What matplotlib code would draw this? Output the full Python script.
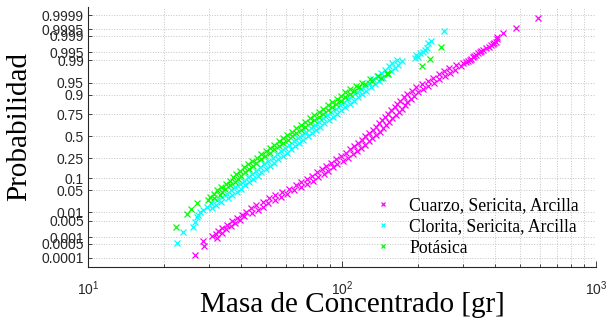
import numpy as np
import matplotlib
matplotlib.use("Agg")
import matplotlib.pyplot as plt
from matplotlib.ticker import FixedLocator, NullLocator, LogLocator, LogFormatterSciNotation, NullFormatter
from statistics import NormalDist

# ---- plotting probabilities shared by the dense part of every sample ----
prob_grid = [0.00097, 0.00114, 0.00135, 0.00159, 0.00187, 0.00219, 0.00256, 0.00298,
             0.00347, 0.00402, 0.00466, 0.00539, 0.00621, 0.00714, 0.00820, 0.00939,
             0.01072, 0.01222, 0.01390, 0.01578, 0.01786, 0.02018, 0.02275, 0.02559,
             0.02872, 0.03216, 0.03593, 0.04006, 0.04457, 0.04947, 0.05480, 0.06057,
             0.06681, 0.07353, 0.08076, 0.08851, 0.09680, 0.10565, 0.11507, 0.12507,
             0.13567, 0.14686, 0.15866, 0.17106, 0.18406, 0.19766, 0.21186, 0.22663,
             0.24196, 0.25785, 0.27425, 0.29116, 0.30854, 0.32636, 0.34458, 0.36317,
             0.38209, 0.40129, 0.42074, 0.44038, 0.46017, 0.48006, 0.5,
             0.51994, 0.53983, 0.55962, 0.57926, 0.59871, 0.61791, 0.63683, 0.65542,
             0.67364, 0.69146, 0.70884, 0.72575, 0.74215, 0.75804, 0.77337, 0.78814,
             0.80234, 0.81594, 0.82894, 0.84134, 0.85314, 0.86433, 0.87493, 0.88493,
             0.89435, 0.90320, 0.91149, 0.91924, 0.92647, 0.93319, 0.93943, 0.94520,
             0.95053, 0.95543, 0.95994, 0.96407, 0.96784, 0.97128, 0.97441, 0.97725,
             0.97982, 0.98214, 0.98422, 0.98610, 0.98778, 0.98928, 0.99061]

# ---- Cuarzo, Sericita, Arcilla: concentrate mass [gr] ----
cuarzo_start = 0
cuarzo_body = [32.3, 30.8, 32.0, 33.6, 32.6, 34.9, 33.8, 36.5, 35.4, 37.8, 36.9, 39.6,
               38.7, 41.3, 40.5,
               44.4, 42.0, 46.5, 43.9, 48.7, 46.0, 51.3, 48.7, 54.3, 51.6, 57.5, 54.7,
               61.0, 58.1, 64.9, 61.7, 69.0, 65.7, 73.0, 69.2, 77.0, 72.9, 80.7, 76.2,
               84.6, 79.9, 88.3, 83.2, 91.9, 86.6, 96.0, 90.6, 100.5, 94.9, 105.2, 99.4,
               110.1, 104.1, 114.7, 107.7, 118.7, 111.5, 122.9, 115.4, 127.2, 119.5,
               131.7, 123.6, 136.3, 128.1, 140.8, 131.9, 144.9, 135.6, 149.1, 139.7,
               153.5, 143.6, 158.0, 148.0, 162.6, 152.2, 167.1, 156.4, 172.0, 161.2,
               176.6, 164.9, 180.8, 168.8, 186.1, 174.7, 192.5, 180.9, 199.8, 188.1,
               208.0, 196.0, 217.8, 206.2, 229.4, 217.4, 241.9, 229.2, 254.7, 241.2,
               266.7, 251.3, 279.2, 264.4, 294.8, 280.0]
cuarzo_tail_mass = [26.4, 28.5, 28.3, 300.6, 308, 314, 319, 323, 327, 332, 338, 343, 348,
                    354, 360, 368, 380, 386, 392, 398, 404, 406, 406, 429, 483, 593]
cuarzo_tail_prob = [0.000136, 0.00039, 0.00069, 0.98745, 0.98850, 0.98950, 0.99036,
                    0.99130, 0.99224, 0.99300, 0.99379, 0.99450, 0.99506, 0.99560,
                    0.99609, 0.99660, 0.99702, 0.99740, 0.99767, 0.99790, 0.99813,
                    0.99865, 0.99889, 0.99926, 0.99955, 0.999853]

# ---- Clorita, Sericita, Arcilla ----
clorita_start = 18
clorita_body = [30.9, 29.3, 32.0, 30.5, 33.5, 32.1, 35.5, 33.8, 36.9, 35.1, 38.5, 36.6,
                40.1, 38.0, 41.5, 39.5, 43.2, 41.0, 44.8, 42.6, 46.5, 44.1, 48.2, 45.8,
                50.1, 47.7, 52.2, 49.5, 54.0, 51.3, 56.2, 53.4, 58.4, 55.5, 60.7, 57.6,
                62.9, 59.7, 65.3, 62.0, 67.9, 64.5, 70.5, 67.0, 73.3, 69.6, 76.1, 72.3,
                79.1, 75.2, 82.2, 78.1, 85.3, 81.0, 88.5, 84.1, 92.0, 87.5, 95.7, 90.9,
                99.3, 94.3, 103.0, 97.9, 107.1, 101.8, 111.4, 105.8, 115.6, 109.8,
                120.0, 114.1, 124.7, 118.6, 129.7, 123.1, 134.6, 127.8, 139.6, 132.8,
                145.2, 137.9, 150.7, 142.9, 156.0, 147.7, 161.0, 152.6, 166.3, 157.6,
                171.8, 165.0]
clorita_tail_mass = [22.5, 23.7, 26.0, 26.4, 26.8, 27.0, 27.6, 28.3, 193.6, 199.5, 196.0,
                     202.8, 208.9, 212.0, 215.3, 218.8, 223.4, 252.9]
clorita_tail_prob = [0.000557, 0.00175, 0.0028, 0.0044, 0.0069, 0.0080, 0.0104, 0.0121,
                     0.99180, 0.99266, 0.99380, 0.99461, 0.99534, 0.99600, 0.99653,
                     0.99788, 0.99830, 0.99940]

# ---- Potásica ----
potasica_start = 23
potasica_body = [29.6, 31.4, 30.3, 33.0, 31.3, 33.7, 32.2, 34.7, 33.4, 36.2, 34.8, 37.8,
                 36.2, 39.1, 37.3, 40.1, 38.4, 41.5, 39.8, 43.0, 41.1, 44.5, 42.6, 46.0,
                 44.2, 48.0, 46.1, 49.9, 47.9, 52.0, 50.0, 54.1, 52.0, 56.3, 54.1, 58.6,
                 56.4, 61.1, 58.7, 63.6, 61.0, 66.0, 63.4, 68.8, 66.2, 71.8, 68.9, 74.6,
                 71.7, 77.8, 74.7, 80.9, 77.7, 84.3, 80.9, 87.7, 84.3, 91.4, 87.8, 95.1,
                 91.4, 99.1, 95.2, 103.0, 99.0, 107.3, 103.1, 111.7, 107.6, 116.9, 113.1,
                 123.3, 119.8, 131.2, 128.6, 142.1, 138.6, 152.3, 150.0]
potasica_tail_mass = [22.2, 24.5, 25.4, 26.8, 205.6, 221.8, 244.3]
potasica_tail_prob = [0.0028, 0.0091, 0.0136, 0.0202, 0.98461, 0.99111, 0.99702]

series_labels = ["Cuarzo, Sericita, Arcilla", "Clorita, Sericita, Arcilla", "Potásica"]
series_colors = ["#ff00ff", "#00ffff", "#00ff00"]

prob_ticks = [0.0001, 0.0005, 0.001, 0.005, 0.01, 0.05, 0.1, 0.25, 0.5, 0.75, 0.9,
              0.95, 0.99, 0.995, 0.999, 0.9995, 0.9999]
prob_tick_labels = ["0.0001", "0.0005", "0.001", "0.005", "0.01", "0.05", "0.1", "0.25",
                    "0.5", "0.75", "0.9", "0.95", "0.99", "0.995", "0.999", "0.9995",
                    "0.9999"]

# ---- normal probability scale ----
_nd = NormalDist()
_ppf = np.vectorize(_nd.inv_cdf, otypes=[float])
_cdf = np.vectorize(_nd.cdf, otypes=[float])


def prob_to_z(p):
    p = np.clip(np.asarray(p, dtype=float), 1e-15, 1 - 1e-15)
    return _ppf(p)


def z_to_prob(z):
    return _cdf(np.asarray(z, dtype=float))


def sample(body, start, tail_mass, tail_prob):
    probs = prob_grid[start:start + len(body)]
    return list(body) + list(tail_mass), list(probs) + list(tail_prob)


plt.rcParams["font.family"] = ["Liberation Sans", "DejaVu Sans"]
plt.rcParams["mathtext.fontset"] = "custom"
plt.rcParams["mathtext.rm"] = "Liberation Sans"

fig = plt.figure(figsize=(6.06, 3.26), dpi=100)
ax = fig.add_axes([88 / 606, 1 - 267 / 326, 508 / 606, 260 / 326])

ax.set_xscale("log")
ax.set_yscale("function", functions=(prob_to_z, z_to_prob))

samples = [sample(cuarzo_body, cuarzo_start, cuarzo_tail_mass, cuarzo_tail_prob),
           sample(clorita_body, clorita_start, clorita_tail_mass, clorita_tail_prob),
           sample(potasica_body, potasica_start, potasica_tail_mass, potasica_tail_prob)]

for (m, p), c, lab in zip(samples, series_colors, series_labels):
    ax.plot(m, p, linestyle="none", marker="x", markersize=5.0, markeredgewidth=0.9,
            color=c, label=lab)

ax.set_xlim(10, 1000)
ax.set_ylim(3.17e-5, 0.9999633)

ax.yaxis.set_major_locator(FixedLocator(prob_ticks))
ax.yaxis.set_minor_locator(NullLocator())
ax.set_yticklabels(prob_tick_labels)
ax.xaxis.set_major_locator(LogLocator(base=10))
ax.xaxis.set_major_formatter(LogFormatterSciNotation())
ax.xaxis.set_minor_locator(LogLocator(base=10, subs=np.arange(2, 10)))
ax.xaxis.set_minor_formatter(NullFormatter())

grid_kw = dict(color="#c4c4c4", linestyle=":", linewidth=0.7)
ax.grid(True, which="major", **grid_kw)
ax.xaxis.grid(True, which="minor", **grid_kw)
ax.set_axisbelow(True)

for side in ("top", "right"):
    ax.spines[side].set_visible(False)
for side in ("left", "bottom"):
    ax.spines[side].set_color("#262626")
    ax.spines[side].set_linewidth(0.8)

ax.tick_params(axis="y", which="major", direction="in", length=3, width=0.6,
               labelsize=10, pad=3, colors="#262626")
ax.tick_params(axis="x", which="major", direction="in", length=4, width=0.6,
               labelsize=10, pad=9, colors="#262626")
ax.tick_params(axis="x", which="minor", direction="in", length=2.5, width=0.5)

ax.set_xlabel("Masa de Concentrado [gr]", family="Liberation Serif", fontsize=21)
ax.xaxis.set_label_coords(0.52, -0.095)
ax.xaxis.label.set_va("top")
ax.set_ylabel("Probabilidad", family="Liberation Serif", fontsize=21)
ax.yaxis.set_label_coords(-0.110, 0.54)

leg = ax.legend(loc="lower right", bbox_to_anchor=(0.966, 0.04), frameon=False,
                prop={"family": "Liberation Serif", "size": 12.7},
                handlelength=1.6, handletextpad=0.7, labelspacing=0.25,
                borderpad=0, borderaxespad=0, markerscale=0.7)

fig.savefig("out.png", dpi=100)
